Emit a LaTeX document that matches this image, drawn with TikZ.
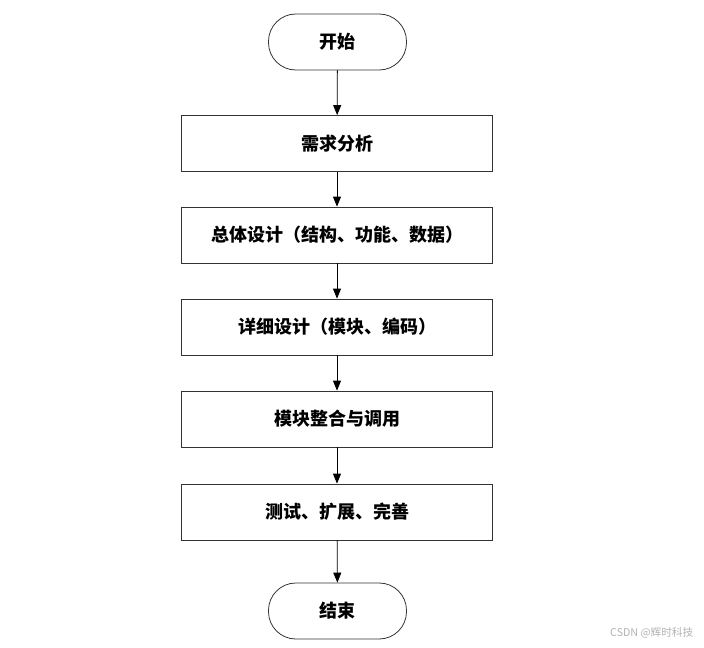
\documentclass[tikz,border=0pt]{standalone}
\usepackage{fontspec}
\newfontfamily\cjk{Noto Sans CJK SC}
\usetikzlibrary{arrows.meta}
\begin{document}
\begin{tikzpicture}[x=0.75pt,y=-0.75pt,
  term/.style={draw=black!80,line width=0.6pt,rounded corners=20.5pt,minimum width=103.5pt,minimum height=42pt,inner sep=0pt,font=\cjk\bfseries\fontsize{13.5}{15}\selectfont},
  procbox/.style={draw=black!80,line width=0.6pt,minimum width=233.25pt,minimum height=42pt,inner sep=0pt,font=\cjk\bfseries\fontsize{13.5}{15}\selectfont},
  flow/.style={draw=black,line width=0.6pt,-{Triangle[length=7.5pt,width=6pt]}}]
\useasboundingbox (0,0) rectangle (704,647);
\node[term] (s) at (337.5,42) {开始};
\node[procbox] (b1) at (337,143.5) {需求分析};
\node[procbox] (b2) at (337,235) {总体设计（结构、功能、数据）};
\node[procbox] (b3) at (337,327) {详细设计（模块、编码）};
\node[procbox] (b4) at (337,419) {模块整合与调用};
\node[procbox] (b5) at (337,512) {测试、扩展、完善};
\node[term] (e) at (337.5,611) {结束};
\draw[flow] (s) -- (b1);
\draw[flow] (b1) -- (b2);
\draw[flow] (b2) -- (b3);
\draw[flow] (b3) -- (b4);
\draw[flow] (b4) -- (b5);
\draw[flow] (b5) -- (e);
\node[text=black!30,font=\cjk\fontsize{8}{10}\selectfont,anchor=east] (wm) at (698,633) {CSDN @辉时科技};
\end{tikzpicture}
\end{document}
